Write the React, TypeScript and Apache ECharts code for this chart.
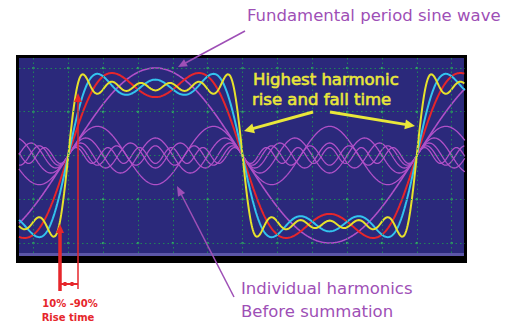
import React, { useEffect, useRef } from "react";
import * as echarts from "echarts";

// Harmonic content (order n, relative amplitude)
const harmonicOrders: number[] = [1, 3, 5, 7, 9, 11];
const harmonicAmplitudes: number[] = [1, 0.333, 0.2, 0.143, 0.111, 0.091];
// Partial sums drawn as coloured traces: highest harmonic included
const partialSumUpTo: number[] = [3, 5, 11];
const partialSumNames: string[] = ["1+3", "1+3+5", "1..11"];
// Scope graticule (phase in degrees of the fundamental, amplitude units)
const gridPhase: number[] = [-36, 0, 36, 72, 108, 144, 180, 216, 252, 288, 324, 360, 396];
const gridLevel: number[] = [-1, -0.5, 0, 0.5, 1];
const phaseRange: number[] = [-50.9, 409.8];
const levelRange: number[] = [-1.114, 1.114];

const labels = {
  fundamental: "Fundamental period sine wave",
  highest1: "Highest harmonic",
  highest2: "rise and fall time",
  indiv1: "Individual harmonics",
  indiv2: "Before summation",
  rise1: "10% -90%",
  rise2: "Rise time",
};

const STEP = 0.5;

function harmonicValue(idx: number, deg: number) {
  const n = harmonicOrders[idx];
  return harmonicAmplitudes[idx] * Math.sin((n * deg * Math.PI) / 180);
}

function buildHarmonic(idx: number) {
  const pts: number[][] = [];
  for (let d = phaseRange[0]; d <= phaseRange[1] + 1e-9; d += STEP) {
    pts.push([d, harmonicValue(idx, d)]);
  }
  return pts;
}

function buildSum(upTo: number) {
  const pts: number[][] = [];
  for (let d = phaseRange[0]; d <= phaseRange[1] + 1e-9; d += STEP) {
    let s = 0;
    harmonicOrders.forEach((n, i) => {
      if (n <= upTo) s += harmonicValue(i, d);
    });
    pts.push([d, s]);
  }
  return pts;
}

function arrowHead(x1: number, y1: number, x2: number, y2: number, len: number, half: number) {
  const dx = x2 - x1;
  const dy = y2 - y1;
  const L = Math.sqrt(dx * dx + dy * dy);
  const ux = dx / L;
  const uy = dy / L;
  const bx = x2 - ux * len;
  const by = y2 - uy * len;
  return [
    [x2, y2],
    [bx - uy * half, by + ux * half],
    [bx + uy * half, by - ux * half],
  ];
}

function arrow(x1: number, y1: number, x2: number, y2: number, color: string, width: number, len: number, half: number, dash?: number[]) {
  const h = arrowHead(x1, y1, x2, y2, len, half);
  const L = Math.hypot(x2 - x1, y2 - y1);
  const ex = x2 - ((x2 - x1) / L) * len * 0.7;
  const ey = y2 - ((y2 - y1) / L) * len * 0.7;
  return [
    {
      type: "line",
      z: 100,
      shape: { x1, y1, x2: ex, y2: ey },
      style: { stroke: color, lineWidth: width, lineDash: dash },
    },
    { type: "polygon", z: 100, shape: { points: h }, style: { fill: color } },
  ];
}

const PURPLE = "#b050c8";
const TEXT_PURPLE = "#9e4fb6";
const YELLOW = "#e9e73a";
const RED = "#e6262b";
const sumColors = ["#e6262b", "#33c3ee", "#e6e22c"];

export default function App() {
  const ref = useRef<HTMLDivElement>(null);
  useEffect(() => {
    if (!ref.current) return;
    const chart = echarts.init(ref.current, undefined, { renderer: "svg" });

    const series: any[] = [];
    // graticule
    series.push({
      type: "line",
      data: [],
      silent: true,
      markLine: {
        silent: true,
        symbol: "none",
        label: { show: false },
        lineStyle: { color: "#1f8e55", width: 1, type: [1.5, 3], opacity: 0.9 },
        data: [
          ...gridPhase.map((v) => ({ xAxis: v })),
          ...gridLevel.map((v) => ({ yAxis: v })),
        ],
      },
    });
    const inter: number[][] = [];
    gridPhase.forEach((p) => gridLevel.forEach((l) => inter.push([p, l])));
    series.push({
      type: "scatter",
      data: inter,
      symbolSize: 2.5,
      silent: true,
      itemStyle: { color: "#3cc46c" },
    });
    // individual harmonics
    harmonicOrders.forEach((n, i) => {
      series.push({
        type: "line",
        name: n === 1 ? "fundamental" : "harmonic " + n,
        data: buildHarmonic(i),
        showSymbol: false,
        silent: true,
        lineStyle: { color: PURPLE, width: n === 1 ? 1.6 : 1.3 },
      });
    });
    // partial sums
    partialSumUpTo.forEach((u, i) => {
      series.push({
        type: "line",
        name: partialSumNames[i],
        data: buildSum(u),
        showSymbol: false,
        silent: true,
        lineStyle: { color: sumColors[i], width: 2 },
      });
    });

    const textStyle = (fill: string, size: number, weight: string = "normal", bold = 0) => ({
      fill,
      font: `${weight} ${size}px "DejaVu Sans"`,
      stroke: bold ? fill : undefined,
      lineWidth: bold,
    });

    const graphic: any[] = [
      // frame
      { type: "rect", z: -10, shape: { x: 16, y: 55, width: 451, height: 208 }, style: { fill: "#000000" } },
      { type: "rect", z: -9, shape: { x: 19, y: 58, width: 445, height: 198 }, style: { fill: "#5b56a8" } },
      { type: "rect", z: -8, shape: { x: 19, y: 58, width: 445, height: 195 }, style: { fill: "#2b297b" } },
      // texts
      { type: "text", z: 100, x: 247, y: 15, style: { text: labels.fundamental, ...textStyle(TEXT_PURPLE, 16.5), verticalAlign: "middle" } },
      { type: "text", z: 100, x: 253, y: 79, style: { text: labels.highest1, ...textStyle(YELLOW, 16.5, "normal", 0.6), verticalAlign: "middle" } },
      { type: "text", z: 100, x: 252, y: 99, style: { text: labels.highest2, ...textStyle(YELLOW, 16.5, "normal", 0.6), verticalAlign: "middle" } },
      { type: "text", z: 100, x: 241, y: 288, style: { text: labels.indiv1, ...textStyle(TEXT_PURPLE, 16.5), verticalAlign: "middle" } },
      { type: "text", z: 100, x: 241, y: 311, style: { text: labels.indiv2, ...textStyle(TEXT_PURPLE, 16.5), verticalAlign: "middle" } },
      { type: "text", z: 100, x: 70, y: 303, style: { text: labels.rise1, ...textStyle(RED, 10, "bold"), align: "center", verticalAlign: "middle" } },
      { type: "text", z: 100, x: 68, y: 317, style: { text: labels.rise2, ...textStyle(RED, 10, "bold"), align: "center", verticalAlign: "middle" } },
      // arrows
      ...arrow(245, 31, 178, 67, TEXT_PURPLE, 1.5, 9, 4),
      ...arrow(234, 297, 177, 186, TEXT_PURPLE, 1.5, 10, 4),
      ...arrow(313, 112, 244, 131, YELLOW, 3, 10, 5),
      ...arrow(330, 112, 415, 126, YELLOW, 3, 10, 5),
      ...arrow(60, 291, 60, 224, RED, 3.5, 9, 4),
      ...arrow(78, 289, 78, 93, RED, 1.5, 9, 4),
      { type: "line", z: 100, shape: { x1: 60, y1: 284, x2: 78, y2: 284 }, style: { stroke: RED, lineWidth: 2 } },
      { type: "rect", z: 100, shape: { x: 63.5, y: 282, width: 3, height: 4 }, style: { fill: RED } },
      { type: "rect", z: 100, shape: { x: 70.5, y: 282, width: 3, height: 4 }, style: { fill: RED } },
    ];

    chart.setOption({
      animation: false,
      backgroundColor: "#ffffff",
      grid: { left: 19, top: 58, width: 446, height: 195, show: false },
      xAxis: { type: "value", min: phaseRange[0], max: phaseRange[1], show: false },
      yAxis: { type: "value", min: levelRange[0], max: levelRange[1], show: false },
      series,
      graphic,
    });
    return () => chart.dispose();
  }, []);
  return (
    <div
      ref={ref}
      style={{ position: "fixed", left: 0, top: 0, width: 514, height: 323, background: "#fff" }}
    />
  );
}
